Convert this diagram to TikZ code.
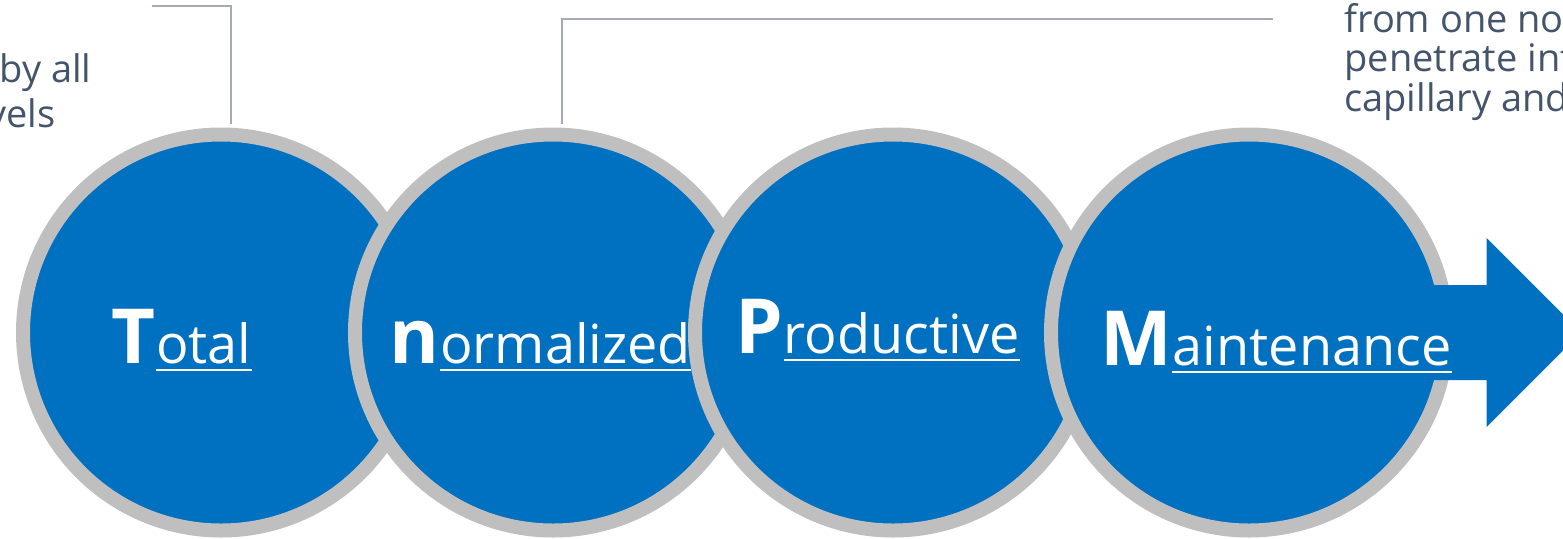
\documentclass[tikz,border=0pt]{standalone}
\usepackage{fontspec}
\setmainfont{Open Sans}
\usepackage{xcolor}
\usetikzlibrary{positioning,calc}

\definecolor{tpmblue}{RGB}{0,112,192}
\definecolor{tpmring}{RGB}{191,191,191}
\definecolor{tpmtext}{RGB}{68,84,106}
\definecolor{tpmline}{RGB}{166,170,178}

\begin{document}
\begin{tikzpicture}[
    x=0.5pt, y=-0.5pt,
    disc/.style={circle, fill=tpmblue, draw=tpmring, line width=7pt, minimum size=198pt, inner sep=0pt, outer sep=0pt},
    initial/.style={font=\fontsize{38}{38}\selectfont\bfseries, text=white, inner sep=0pt, anchor=base west},
    rest/.style={font=\fontsize{27}{27}\selectfont, text=white, inner sep=0pt, anchor=base west},
    uline/.style={white, line width=1pt},
    note/.style={font=\fontsize{19}{19}\selectfont, text=tpmtext, inner sep=0pt},
    callout/.style={draw=tpmline, line width=0.8pt}
]

% Frame (y runs downwards)
\useasboundingbox (0,0) rectangle (1563,538);
\clip (0,0) rectangle (1563,538);

% Discs, each one above the previous
\node[disc] (c1) at (221,332.5) {};
\node[disc] (c2) at (553,332.5) {};
\node[disc] (c3) at (893,332.5) {};
\node[disc] (c4) at (1249,332.5) {};

% Arrow out of the last disc
\fill[tpmblue] ($(c4)+(150,-47.5)$) -- ($(c4)+(237.5,-47.5)$) -- ($(c4)+(237.5,-94.5)$)
    -- ($(c4)+(332,0)$) -- ($(c4)+(237.5,94.5)$) -- ($(c4)+(237.5,47.5)$)
    -- ($(c4)+(150,47.5)$) -- cycle;

% Labels: Total
\node[initial] (tI) at (111,363) {T};
\node[rest] (tR) at (tI.base east) {otal};
\draw[uline] ($(tR.base west)+(0,7)$) -- ($(tR.base east)+(0,7)$);

% Labels: normalized
\node[initial] (nI) at (389,363) {n};
\node[rest] (nR) at (nI.base east) {ormalized};
\draw[uline] ($(nR.base west)+(0,7)$) -- ($(nR.base east)+(0,7)$);

% Labels: Productive
\node[initial] (pI) at (735,353) {P};
\node[rest] (pR) at (pI.base east) {roductive};
\draw[uline] ($(pR.base west)+(0,7)$) -- ($(pR.base east)+(0,7)$);

% Labels: Maintenance
\node[initial] (mI) at (1100,365) {M};
\node[rest] (mR) at (mI.base east) {aintenance};
\draw[uline] ($(mR.base west)+(0,7)$) -- ($(mR.base east)+(0,7)$);

% Notes above the discs
\node[note, anchor=base east] (tn1) at (92,82) {by all};
\node[note, anchor=base east] (tn2) at (56,127) {vels};
\node[note, anchor=base west] (pn1) at (1344,32) {from one no};
\node[note, anchor=base west] (pn2) at (1344,71.5) {penetrate int};
\node[note, anchor=base west] (pn3) at (1344,111) {capillary and};

% Callout lines
\coordinate (t1) at ($(c1.north)+(10,-10.5)$);
\coordinate (t1end) at (152,6);
\draw[callout] (t1) |- (t1end);

\coordinate (n1) at ($(c2.north)+(9,-10.5)$);
\coordinate (n1end) at (1273,19);
\draw[callout] (n1) |- (n1end);

\end{tikzpicture}
\end{document}
